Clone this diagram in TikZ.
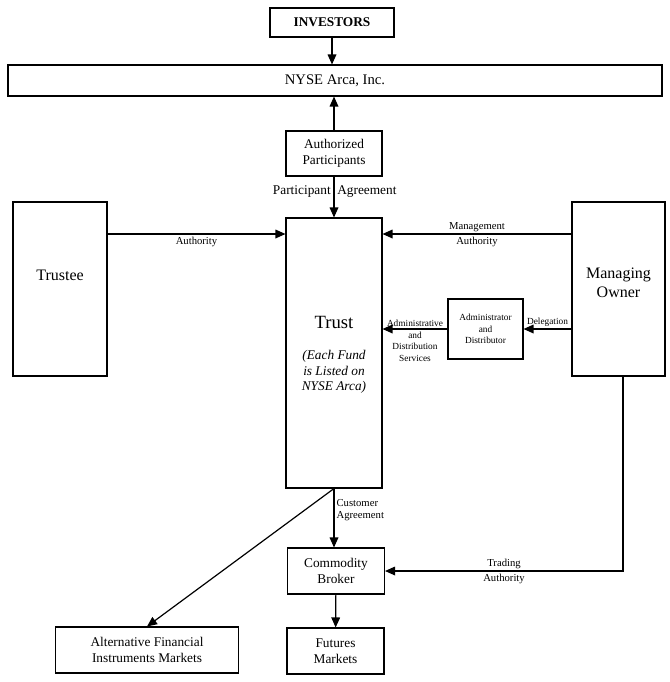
\documentclass[tikz,border=0pt]{standalone}
\usepackage{fontspec}
\setmainfont{Liberation Serif}
\usetikzlibrary{arrows.meta, positioning, calc}

\def\upx{0.75pt}
\tikzset{
  box/.style={draw, line width=0.8pt, inner sep=0pt, align=center},
  arr/.style={line width=0.9pt, -{Triangle[length=7.5pt,width=6.5pt]}},
  boxfont/.style={font=\fontsize{10}{11.7}\selectfont},
  bigfont/.style={font=\fontsize{12}{14.25}\selectfont, align=center},
  lblfont/.style={font=\fontsize{8}{9}\selectfont, inner sep=1.5pt, align=center},
  smallfont/.style={font=\fontsize{7}{8.6}\selectfont, inner sep=1.5pt, align=center},
}

\begin{document}
\begin{tikzpicture}[x=0.75pt, y=-0.75pt]
\useasboundingbox (0,0) rectangle (670,682);

% Boxes
\node[box, font=\fontsize{10}{12}\selectfont\bfseries, minimum width=124*\upx, minimum height=29*\upx] (inv) at (332,22.5) {INVESTORS};
\node[box, font=\fontsize{11}{13}\selectfont, minimum width=654*\upx, minimum height=31*\upx] (nyse) at (335,80.5) {NYSE Arca, Inc.};
\node[box, boxfont, minimum width=96*\upx, minimum height=45*\upx] (ap) at (334,153.5) {Authorized\\Participants};
\node[box, minimum width=96*\upx, minimum height=270*\upx] (trust) at (334,353) {};
\node[box, minimum width=94*\upx, minimum height=174*\upx] (trustee) at (60,289) {};
\node[box, minimum width=93*\upx, minimum height=174*\upx] (mo) at (618.5,289) {};
\node[box, smallfont, minimum width=75*\upx, minimum height=60*\upx] (adm) at (485.5,329) {Administrator\\and\\Distributor};
\node[box, boxfont, minimum width=97*\upx, minimum height=46*\upx] (cb) at (336,571) {Commodity\\Broker};
\node[box, boxfont, minimum width=97*\upx, minimum height=46*\upx] (fut) at (335.5,651) {Futures\\Markets};
\node[box, boxfont, minimum width=183*\upx, minimum height=46*\upx] (alt) at (147,650) {Alternative Financial\\Instruments Markets};

% Texts inside the tall boxes
\node[font=\fontsize{14}{16}\selectfont] (trusttitle) at (334,322) {Trust};
\node[font=\fontsize{10}{11.6}\selectfont\itshape, align=center] (trustnote) at (334,372) {(Each Fund\\is Listed on\\NYSE Arca)};
\node[bigfont] (trusteetxt) at (60,275) {Trustee};
\node[bigfont] (motxt) at (618.5,283) {Managing\\Owner};

% Helper points
\coordinate (authy) at (0,234);
\coordinate (trade) at (623,571);

% Connectors
\draw[arr] (inv) -- (inv |- nyse.north);
\draw[arr] (ap) -- (ap |- nyse.south);
\draw[arr] (ap) -- node[pos=0.36, anchor=east, boxfont, inner sep=2pt] (pa1) {Participant}
                   node[pos=0.36, anchor=west, boxfont, inner sep=2pt] (pa2) {Agreement} (trust);
\draw[arr] (trustee.east |- authy) -- node[below, lblfont] (authlbl) {Authority} (trust.west |- authy);
\draw[arr] (mo.west |- authy) -- node[above, lblfont] (mal1) {Management}
                                 node[below, lblfont] (mal2) {Authority} (trust.east |- authy);
\draw[arr] (mo.west |- adm) -- node[above, smallfont] (dellbl) {Delegation} (adm.east);
\draw[arr] (adm.west) -- node[above, smallfont] (ads1) {Administrative}
                         node[below, smallfont] (ads2) {and\\Distribution\\Services} (trust.east |- adm);
\draw[arr] (trust.south) -- node[pos=0.37, right, lblfont, align=left] (calbl) {Customer\\Agreement} (trust.south |- cb.north);
\draw[arr] (trust.south) -- (alt.north);
\draw[arr] (mo.south -| trade) |- node[pos=0.75, above, lblfont] (tl1) {Trading}
                                  node[pos=0.75, below, lblfont] (tl2) {Authority} (cb.east);
\draw[arr] (cb) -- (fut);

\end{tikzpicture}
\end{document}
